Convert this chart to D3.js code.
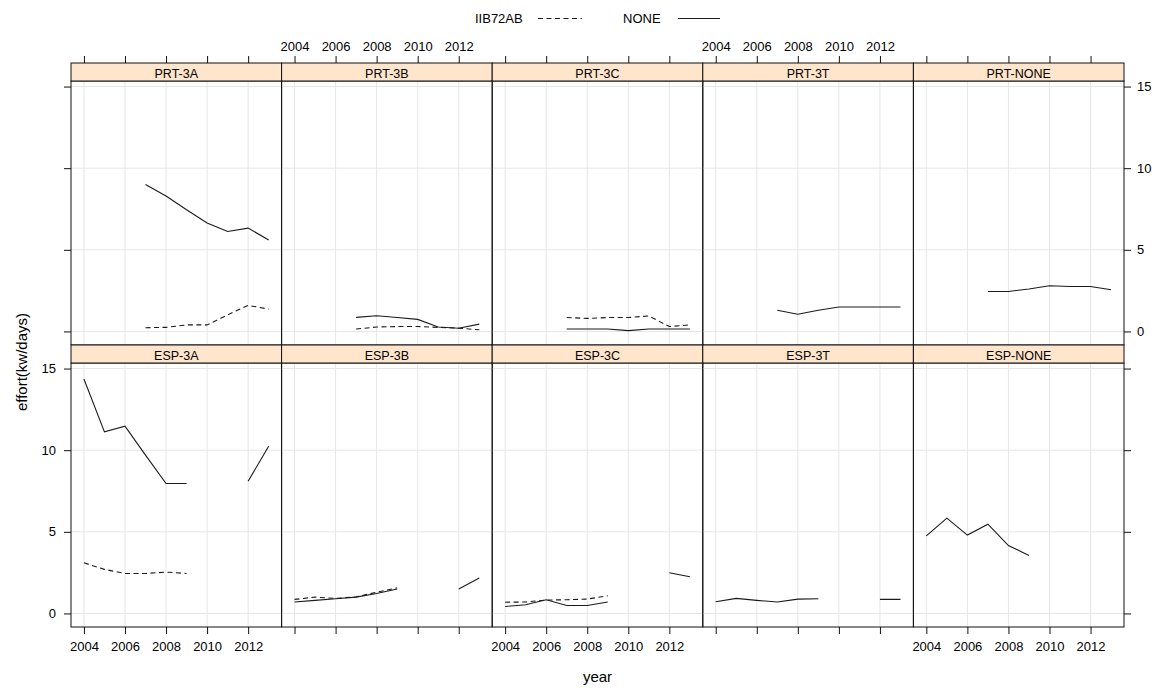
<!DOCTYPE html>
<html><head><meta charset="utf-8">
<script src="https://cdn.jsdelivr.net/npm/d3@7"></script>
<style>body{margin:0;background:#fff} text{font-family:"Liberation Sans",Arial,sans-serif}</style>
</head><body><svg id="c" width="1155" height="688"></svg>
<script>
// ---------- data ----------
const years = [2004,2005,2006,2007,2008,2009,2010,2011,2012,2013];
const rowCountries = ["PRT","ESP"];
const colAreas = ["3A","3B","3C","3T","NONE"];
const seriesNames = ["IIB72AB","NONE"];
const xTicks = [2004,2006,2008,2010,2012];
const yTicks = [0,5,10,15];

const prt3A_IIB72AB = [null,null,null,0.23,0.25,0.4,0.4,1.02,1.6,1.37];
const prt3A_NONE    = [null,null,null,9.0,8.3,7.45,6.64,6.12,6.33,5.6];
const prt3B_IIB72AB = [null,null,null,0.15,0.27,0.3,0.3,0.25,0.2,0.1];
const prt3B_NONE    = [null,null,null,0.86,0.96,0.85,0.74,0.27,0.2,0.45];
const prt3C_IIB72AB = [null,null,null,0.85,0.8,0.85,0.85,0.95,0.3,0.4];
const prt3C_NONE    = [null,null,null,0.15,0.15,0.15,0.05,0.15,0.15,0.15];
const prt3T_NONE    = [null,null,null,1.3,1.05,1.3,1.5,1.5,1.5,1.5];
const prtNONE_NONE  = [null,null,null,2.45,2.45,2.6,2.8,2.75,2.75,2.55];
const esp3A_IIB72AB = [3.1,2.7,2.45,2.45,2.53,2.45,null,null,null,null];
const esp3A_NONE    = [14.36,11.12,11.47,9.7,7.96,7.96,null,null,8.1,10.24];
const esp3B_IIB72AB = [0.86,1.0,0.92,1.02,1.3,1.57,null,null,null,null];
const esp3B_NONE    = [0.7,0.8,0.9,1.0,1.22,1.5,null,null,1.5,2.17];
const esp3C_IIB72AB = [0.69,0.7,0.82,0.84,0.88,1.08,null,null,null,null];
const esp3C_NONE    = [0.43,0.53,0.84,0.49,0.49,0.7,null,null,2.49,2.25];
const esp3T_NONE    = [0.72,0.92,0.8,0.7,0.88,0.9,null,null,0.86,0.86];
const espNONE_NONE  = [4.75,5.84,4.8,5.47,4.16,3.55,null,null,null,null];

const data = {
  "PRT-3A": {IIB72AB: prt3A_IIB72AB, NONE: prt3A_NONE},
  "PRT-3B": {IIB72AB: prt3B_IIB72AB, NONE: prt3B_NONE},
  "PRT-3C": {IIB72AB: prt3C_IIB72AB, NONE: prt3C_NONE},
  "PRT-3T": {NONE: prt3T_NONE},
  "PRT-NONE": {NONE: prtNONE_NONE},
  "ESP-3A": {IIB72AB: esp3A_IIB72AB, NONE: esp3A_NONE},
  "ESP-3B": {IIB72AB: esp3B_IIB72AB, NONE: esp3B_NONE},
  "ESP-3C": {IIB72AB: esp3C_IIB72AB, NONE: esp3C_NONE},
  "ESP-3T": {NONE: esp3T_NONE},
  "ESP-NONE": {NONE: espNONE_NONE}
};

// ---------- layout ----------
const svg = d3.select("#c");
const L = 71, R = 1124, nCols = 5, pw = (R - L) / nCols;
const stripH = 18, panelH = 264;
const rowTop = [63, 345];
const gridColor = "#e6e6e6";
const lineColor = "#1a1a1a";
const borderColor = "#111";
const fontSize = 13;

const x = d3.scaleLinear().domain([2003.37, 2013.63]).range([0, pw]);
const y = d3.scaleLinear().domain([-0.83, 15.34]).range([panelH, 0]);
const line = d3.line().defined(d => d[1] != null).x(d => x(d[0])).y(d => y(d[1]));
const dashes = {IIB72AB: "5,3.5", NONE: null};

svg.append("rect").attr("width",1155).attr("height",688).attr("fill","#fff");

function styleAxis(g){
  g.select(".domain").remove();
  g.attr("font-family", null).attr("font-size", null);
  g.selectAll(".tick line").attr("stroke", borderColor);
  g.selectAll(".tick text").attr("fill", "#000").style("font-size", fontSize + "px")
   .style("font-family", '"Liberation Sans",Arial,sans-serif');
}

rowCountries.forEach((country, r) => {
  const sTop = rowTop[r], pTop = sTop + stripH;
  colAreas.forEach((area, c) => {
    const name = country + "-" + area;
    const px = L + c * pw;
    const g = svg.append("g").attr("transform", `translate(${px},${pTop})`);
    g.selectAll(null).data(xTicks).join("line")
      .attr("x1", d => x(d)).attr("x2", d => x(d)).attr("y1", 0).attr("y2", panelH)
      .attr("stroke", gridColor).attr("stroke-width", 1);
    g.selectAll(null).data(yTicks).join("line")
      .attr("y1", d => y(d)).attr("y2", d => y(d)).attr("x1", 0).attr("x2", pw)
      .attr("stroke", gridColor).attr("stroke-width", 1);
    seriesNames.forEach(s => {
      const vals = data[name][s];
      if (!vals) return;
      g.append("path").datum(years.map((yr, i) => [yr, vals[i]]))
        .attr("d", line).attr("fill", "none").attr("stroke", lineColor)
        .attr("stroke-width", 1.1).attr("stroke-dasharray", dashes[s]);
    });
    g.append("rect").attr("width", pw).attr("height", panelH)
      .attr("fill", "none").attr("stroke", borderColor).attr("stroke-width", 1);
    // strip
    const sg = svg.append("g").attr("transform", `translate(${px},${sTop})`);
    sg.append("rect").attr("width", pw).attr("height", stripH)
      .attr("fill", "#ffe5cc").attr("stroke", borderColor).attr("stroke-width", 1);
    sg.append("text").attr("x", pw / 2).attr("y", 14.5).attr("text-anchor", "middle")
      .style("font-size", "12.5px").attr("fill", "#000").text(name);

    // x axes (top for row 0, bottom for row 1)
    if (r === 0) {
      svg.append("g").attr("transform", `translate(${px},${sTop})`)
        .call(d3.axisTop(x).tickValues(xTicks).tickSize(7).tickPadding(5)
          .tickFormat(c % 2 === 1 ? d3.format("d") : () => ""))
        .call(styleAxis);
    } else {
      svg.append("g").attr("transform", `translate(${px},${pTop + panelH})`)
        .call(d3.axisBottom(x).tickValues(xTicks).tickSize(7).tickPadding(8)
          .tickFormat(c % 2 === 0 ? d3.format("d") : () => ""))
        .call(styleAxis);
    }
  });
  // y axes
  svg.append("g").attr("transform", `translate(${L},${pTop})`)
    .call(d3.axisLeft(y).tickValues(yTicks).tickSize(7).tickPadding(8)
      .tickFormat(r === 1 ? d3.format("d") : () => ""))
    .call(styleAxis);
  svg.append("g").attr("transform", `translate(${R},${pTop})`)
    .call(d3.axisRight(y).tickValues(yTicks).tickSize(7).tickPadding(6)
      .tickFormat(r === 0 ? d3.format("d") : () => ""))
    .call(styleAxis);
});

// axis titles
svg.append("text").attr("x", (L + R) / 2).attr("y", 682).attr("text-anchor", "middle")
  .style("font-size", "15px").attr("fill", "#000").text("year");
svg.append("text").attr("transform", "translate(27,362) rotate(-90)").attr("text-anchor", "middle")
  .style("font-size", "15px").attr("fill", "#000").text("effort(kw/days)");

// legend
const legend = svg.append("g");
const legendItems = [
  {name: "IIB72AB", tx: 475, lx1: 538, lx2: 582},
  {name: "NONE", tx: 623, lx1: 678, lx2: 720}
];
legend.selectAll(null).data(legendItems).join("text")
  .attr("x", d => d.tx).attr("y", 23).style("font-size", fontSize + "px").attr("fill", "#000")
  .text(d => d.name);
legend.selectAll(null).data(legendItems).join("line")
  .attr("x1", d => d.lx1).attr("x2", d => d.lx2).attr("y1", 18.5).attr("y2", 18.5)
  .attr("stroke", lineColor).attr("stroke-width", 1.1)
  .attr("stroke-dasharray", d => dashes[d.name]);
</script></body></html>
